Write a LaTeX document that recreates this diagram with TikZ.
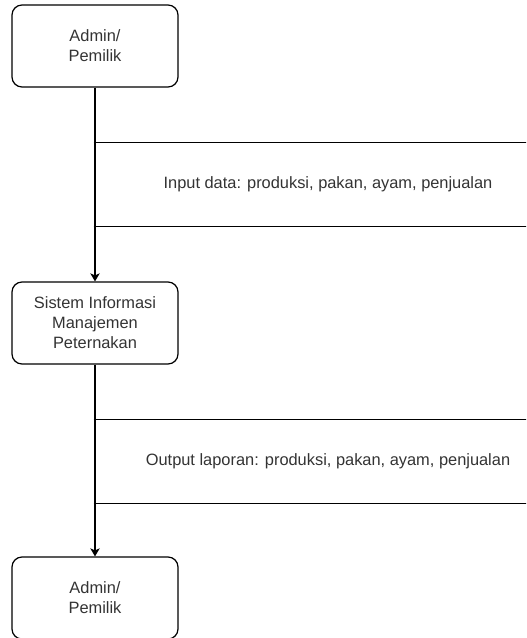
\documentclass[tikz,border=0pt]{standalone}
\usepackage{fontspec}
\setmainfont{Liberation Sans}
\usetikzlibrary{arrows.meta}

\begin{document}
\begin{tikzpicture}[x=0.75pt,y=0.75pt,yscale=-1,xscale=1,
  actor/.style={draw, rounded corners=7.5pt, line width=0.9pt, minimum width=124.5pt, minimum height=61.5pt, align=center, text=black!80, font=\fontsize{12.3}{15}\selectfont},
  store/.style={minimum width=351pt, minimum height=62.25pt, inner sep=0pt, text=black!80, font=\fontsize{12.3}{15}\selectfont},
  flow/.style={line width=0.9pt, -{Stealth[length=6pt,width=7pt,inset=1.5pt]}}]
\useasboundingbox (0,0) rectangle (526,638);
\clip (0,0) rectangle (526,638);

% Boxes
\node [actor] (admin) at (95,46) {Admin/\\Pemilik};
\node [actor] (sim) at (95,323) {Sistem Informasi\\Manajemen\\Peternakan};
\node [actor] (laporan) at (95,598) {Admin/\\Pemilik};

% Data flows
\node [store] (input) at (328,184.5) {Input data: produksi, pakan, ayam, penjualan};
\draw [line width=0.9pt] (input.north west) -- (input.north east);
\draw [line width=0.9pt] (input.south west) -- (input.south east);
\node [store] (output) at (328,461.5) {Output laporan: produksi, pakan, ayam, penjualan};
\draw [line width=0.9pt] (output.north west) -- (output.north east);
\draw [line width=0.9pt] (output.south west) -- (output.south east);

% Arrows
\draw [flow] (admin.south) -- (sim.north);
\draw [flow] (sim.south) -- (laporan.north);

\end{tikzpicture}
\end{document}
